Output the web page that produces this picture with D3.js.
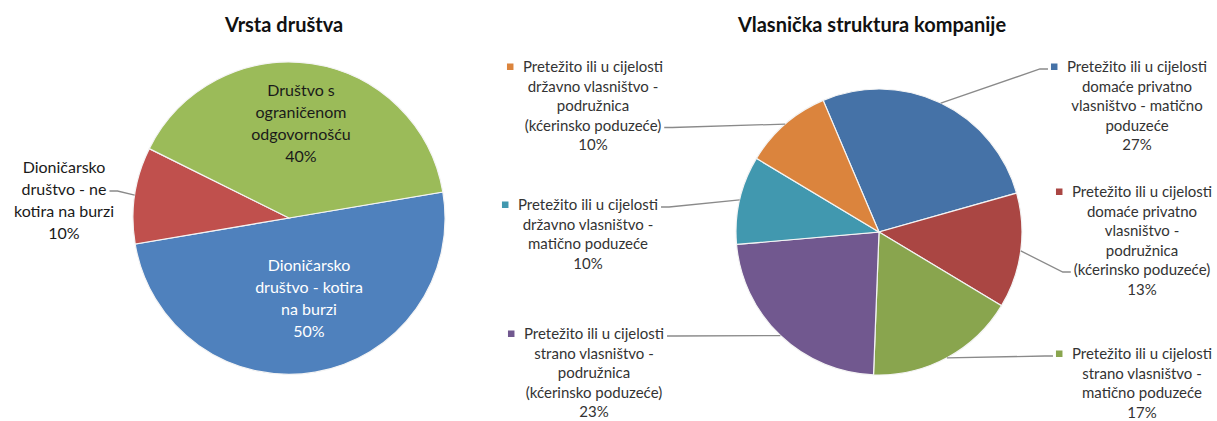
<!DOCTYPE html>
<html><head><meta charset="utf-8">
<script src="https://cdn.jsdelivr.net/npm/d3@7"></script>
<style>
body{margin:0;background:#fff}
svg{display:block}
text{font-family:Lato,"Open Sans",sans-serif}
</style>
</head><body>
<svg id="c" width="1217" height="421"></svg>
<script>
// ---------- DATA ----------
const leftTitle = "Vrsta društva";
const leftCategories = [
  "Dioničarsko društvo - kotira na burzi",
  "Dioničarsko društvo - ne kotira na burzi",
  "Društvo s ograničenom odgovornošću"
];
const leftValues = [50, 10, 40];
const leftLabelLines = [
  ["Dioničarsko", "društvo - kotira", "na burzi"],
  ["Dioničarsko", "društvo - ne", "kotira na burzi"],
  ["Društvo s", "ograničenom", "odgovornošću"]
];

const rightTitle = "Vlasnička struktura kompanije";
const rightCategories = [
  "Pretežito ili u cijelosti domaće privatno vlasništvo - matično poduzeće",
  "Pretežito ili u cijelosti domaće privatno vlasništvo - podružnica (kćerinsko poduzeće)",
  "Pretežito ili u cijelosti strano vlasništvo - matično poduzeće",
  "Pretežito ili u cijelosti strano vlasništvo - podružnica (kćerinsko poduzeće)",
  "Pretežito ili u cijelosti državno vlasništvo - matično poduzeće",
  "Pretežito ili u cijelosti državno vlasništvo - podružnica (kćerinsko poduzeće)"
];
const rightValues = [27, 13, 17, 23, 10, 10];
const rightLabelLines = [
  ["Pretežito ili u cijelosti", "domaće privatno", "vlasništvo - matično", "poduzeće"],
  ["Pretežito ili u cijelosti", "domaće privatno", "vlasništvo -", "podružnica", "(kćerinsko poduzeće)"],
  ["Pretežito ili u cijelosti", "strano vlasništvo -", "matično poduzeće"],
  ["Pretežito ili u cijelosti", "strano vlasništvo -", "podružnica", "(kćerinsko poduzeće)"],
  ["Pretežito ili u cijelosti", "državno vlasništvo -", "matično poduzeće"],
  ["Pretežito ili u cijelosti", "državno vlasništvo -", "podružnica", "(kćerinsko poduzeće)"]
];

// ---------- STYLE / LAYOUT ----------
const leftColors = ["#4F81BD", "#C0504D", "#9BBB59"];
const rightColors = ["#4572A7", "#AA4643", "#89A54E", "#71588F", "#4198AF", "#DB843D"];

const leftLayout = {cx: 289, cy: 218, r: 156, start: 80.4, title: {x: 284, y: 25},
  fontSize: 16, lineH: 22,
  labels: [
    {x: 309, y: 265, fill: "#ffffff"},
    {x: 64, y: 167, fill: "#1a1a1a", leader: {line: 1, side: "right"}},
    {x: 301, y: 90, fill: "#1a1a1a"}
  ]};
const rightLayout = {cx: 879, cy: 232, r: 143, start: 337, title: {x: 872, y: 25},
  fontSize: 15, lineH: 19.5,
  labels: [
    {x: 1137, y: 67, fill: "#333", key: true, leader: {line: 0, side: "left"}},
    {x: 1142, y: 192, fill: "#333", key: true, leader: {line: 4, side: "left"}},
    {x: 1142, y: 354, fill: "#333", key: true, leader: {line: 0, side: "left"}},
    {x: 594, y: 334, fill: "#333", key: true, leader: {line: 0, side: "right"}},
    {x: 588, y: 205, fill: "#333", key: true, leader: {line: 0, side: "right"}},
    {x: 593, y: 67, fill: "#333", key: true, leader: {line: 3, side: "right"}}
  ]};

const svg = d3.select("#c");

function drawPie(values, categories, lines, colors, title, L) {
  const g = svg.append("g");
  const deg = Math.PI / 180;
  const pie = d3.pie().sort(null).value(d => d)
    .startAngle(L.start * deg).endAngle(L.start * deg + 2 * Math.PI);
  const arcs = pie(values);
  const arc = d3.arc().innerRadius(0).outerRadius(L.r);
  const rim = d3.arc().innerRadius(L.r).outerRadius(L.r);

  g.append("text").attr("x", L.title.x).attr("y", L.title.y).attr("dy", "0.35em")
    .attr("text-anchor", "middle").attr("font-size", 20).attr("font-weight", "bold")
    .attr("fill", "#111").text(title);

  const pg = g.append("g").attr("transform", `translate(${L.cx},${L.cy})`);
  pg.selectAll("path").data(arcs).join("path")
    .attr("d", arc).attr("fill", (d, i) => colors[i])
    .attr("stroke", "#f4f4f4").attr("stroke-width", 1.2)
    .append("title").text((d, i) => categories[i]);

  arcs.forEach((d, i) => {
    const lay = L.labels[i];
    const txt = lines[i].concat([d.value + "%"]);
    const lg = g.append("g");
    const nodes = [];
    txt.forEach((t, k) => {
      const n = lg.append("text").attr("x", lay.x).attr("y", lay.y + k * L.lineH)
        .attr("dy", "0.35em").attr("text-anchor", "middle")
        .attr("font-size", L.fontSize).attr("fill", lay.fill).text(t);
      nodes.push(n.node());
    });
    let keyLeft = null;
    if (lay.key) {
      const w0 = nodes[0].getComputedTextLength();
      const left0 = lay.x - w0 / 2;
      keyLeft = left0 - 16;
      lg.append("rect").attr("x", keyLeft).attr("y", lay.y - 3.5)
        .attr("width", 6.5).attr("height", 6.5).attr("fill", colors[i]);
    }
    if (lay.leader) {
      const li = lay.leader.line;
      const w = nodes[li].getComputedTextLength();
      const ly = lay.y + li * L.lineH + 2;
      let x0;
      if (lay.leader.side === "right") x0 = lay.x + w / 2 + 3;
      else x0 = (li === 0 && keyLeft !== null) ? keyLeft - 3 : lay.x - w / 2 - 3;
      const x1 = lay.leader.side === "right" ? x0 + 8 : x0 - 8;
      const c = rim.centroid(d);
      const p = [[x0, ly], [x1, ly], [L.cx + c[0], L.cy + c[1]]];
      g.append("path").attr("d", d3.line()(p)).attr("fill", "none")
        .attr("stroke", "#8a8a8a").attr("stroke-width", 1.3);
    }
  });
}

drawPie(leftValues, leftCategories, leftLabelLines, leftColors, leftTitle, leftLayout);
drawPie(rightValues, rightCategories, rightLabelLines, rightColors, rightTitle, rightLayout);
</script>
</body></html>
